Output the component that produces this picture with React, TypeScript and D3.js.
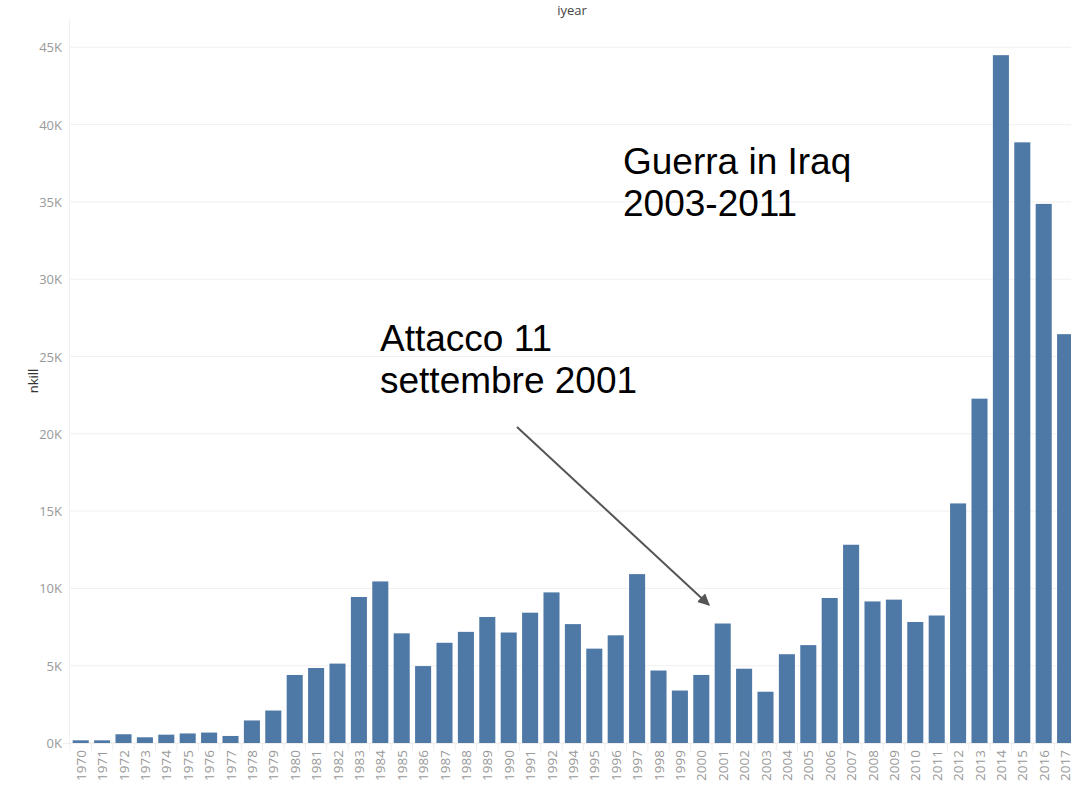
import { useEffect } from 'react';
import * as d3 from 'd3';

const WIDTH = 1071;
const HEIGHT = 786;

// years on the x axis (1993 is missing in the source data)
const years = [
  '1970', '1971', '1972', '1973', '1974', '1975', '1976', '1977', '1978', '1979',
  '1980', '1981', '1982', '1983', '1984', '1985', '1986', '1987', '1988', '1989',
  '1990', '1991', '1992', '1994', '1995', '1996', '1997', '1998', '1999', '2000',
  '2001', '2002', '2003', '2004', '2005', '2006', '2007', '2008', '2009', '2010',
  '2011', '2012', '2013', '2014', '2015', '2016', '2017',
];

// nkill per year
const nkill = [
  174, 173, 566, 370, 539, 617, 674, 456, 1459, 2100,
  4400, 4851, 5136, 9444, 10450, 7094, 4976, 6482, 7189, 8152,
  7148, 8429, 9742, 7690, 6103, 6966, 10924, 4688, 3393, 4403,
  7729, 4805, 3317, 5743, 6331, 9380, 12824, 9157, 9273, 7827,
  8246, 15497, 22273, 44490, 38853, 34871, 26445,
];

const yTicks = [0, 5000, 10000, 15000, 20000, 25000, 30000, 35000, 40000, 45000];

const annotations = [
  { lines: ['Guerra in Iraq', '2003-2011'], x: 623, y: 174 },
  { lines: ['Attacco 11', 'settembre 2001'], x: 380, y: 351 },
];

const AXIS_FONT = '"Open Sans", "DejaVu Sans", sans-serif';

export default function App() {
  useEffect(() => {
    document.body.style.margin = '0';
  }, []);

  const x = d3
    .scaleBand<string>()
    .domain(years)
    .range([70, 1075.8])
    .paddingInner(0.25)
    .paddingOuter(0.125);

  const y = d3.scaleLinear().domain([0, 45000]).range([743, 47.3]);

  const data = years.map((yr, i) => ({ year: yr, value: nkill[i] }));
  const step = x.step();

  // arrow from the 9/11 label toward the 2001 bar
  const arrowStart = { x: 517, y: 427 };
  const arrowEnd = { x: 709, y: 605 };

  return (
    <svg width={WIDTH} height={HEIGHT} style={{ display: 'block', background: '#fff' }}>
      <defs>
        <marker
          id="arrowhead"
          viewBox="0 0 10 10"
          refX="9"
          refY="5"
          markerWidth="6"
          markerHeight="6"
          orient="auto"
          markerUnits="strokeWidth"
        >
          <path d="M0,0 L10,5 L0,10 z" fill="#555" />
        </marker>
      </defs>

      {/* gridlines */}
      {yTicks.map((t) => (
        <line key={'g' + t} x1={69} x2={WIDTH} y1={y(t)} y2={y(t)} stroke="#f0f0f0" strokeWidth={1} />
      ))}

      {/* y axis line */}
      <line x1={69.5} x2={69.5} y1={19} y2={743} stroke="#f0f0f0" strokeWidth={1} />

      {/* y tick labels */}
      {yTicks.map((t) => (
        <text
          key={'yl' + t}
          x={62}
          y={y(t)}
          textAnchor="end"
          dominantBaseline="central"
          fontSize={13}
          fontFamily={AXIS_FONT}
          fill="#999"
        >
          {t / 1000 + 'K'}
        </text>
      ))}

      {/* bars */}
      {data.map((d) => (
        <rect
          key={d.year}
          x={x(d.year)!}
          y={y(d.value)}
          width={x.bandwidth()}
          height={y(0) - y(d.value)}
          fill="#4e79a7"
        />
      ))}

      {/* baseline and category separators */}
      <line x1={63} x2={WIDTH} y1={743.5} y2={743.5} stroke="#eeeeee" strokeWidth={1} />
      {years.map((yr) => (
        <line
          key={'s' + yr}
          x1={x(yr)! - (step - x.bandwidth()) / 2}
          x2={x(yr)! - (step - x.bandwidth()) / 2}
          y1={744}
          y2={751}
          stroke="#eeeeee"
          strokeWidth={1}
        />
      ))}

      {/* x tick labels */}
      {years.map((yr) => {
        const cx = x(yr)! + x.bandwidth() / 2;
        return (
          <text
            key={'xl' + yr}
            transform={'translate(' + cx + ',750) rotate(-90)'}
            textAnchor="end"
            dominantBaseline="central"
            fontSize={13.5}
            fontFamily={AXIS_FONT}
            fill="#999"
          >
            {yr}
          </text>
        );
      })}

      {/* axis titles */}
      <text x={572} y={10} textAnchor="middle" dominantBaseline="central" fontSize={13} fontFamily={AXIS_FONT} fill="#444">
        iyear
      </text>
      <text
        transform="translate(33,381) rotate(-90)"
        textAnchor="middle"
        dominantBaseline="central"
        fontSize={13}
        fontFamily={AXIS_FONT}
        fill="#333"
      >
        nkill
      </text>

      {/* annotations */}
      {annotations.map((a, i) => (
        <text key={'a' + i} x={a.x} y={a.y} fontSize={37} fontFamily='"Liberation Sans", Arial, sans-serif' fill="#000">
          {a.lines.map((l, j) => (
            <tspan key={j} x={a.x} dy={j === 0 ? 0 : 41.5}>
              {l}
            </tspan>
          ))}
        </text>
      ))}

      <line
        x1={arrowStart.x}
        y1={arrowStart.y}
        x2={arrowEnd.x}
        y2={arrowEnd.y}
        stroke="#555"
        strokeWidth={2}
        markerEnd="url(#arrowhead)"
      />
    </svg>
  );
}
